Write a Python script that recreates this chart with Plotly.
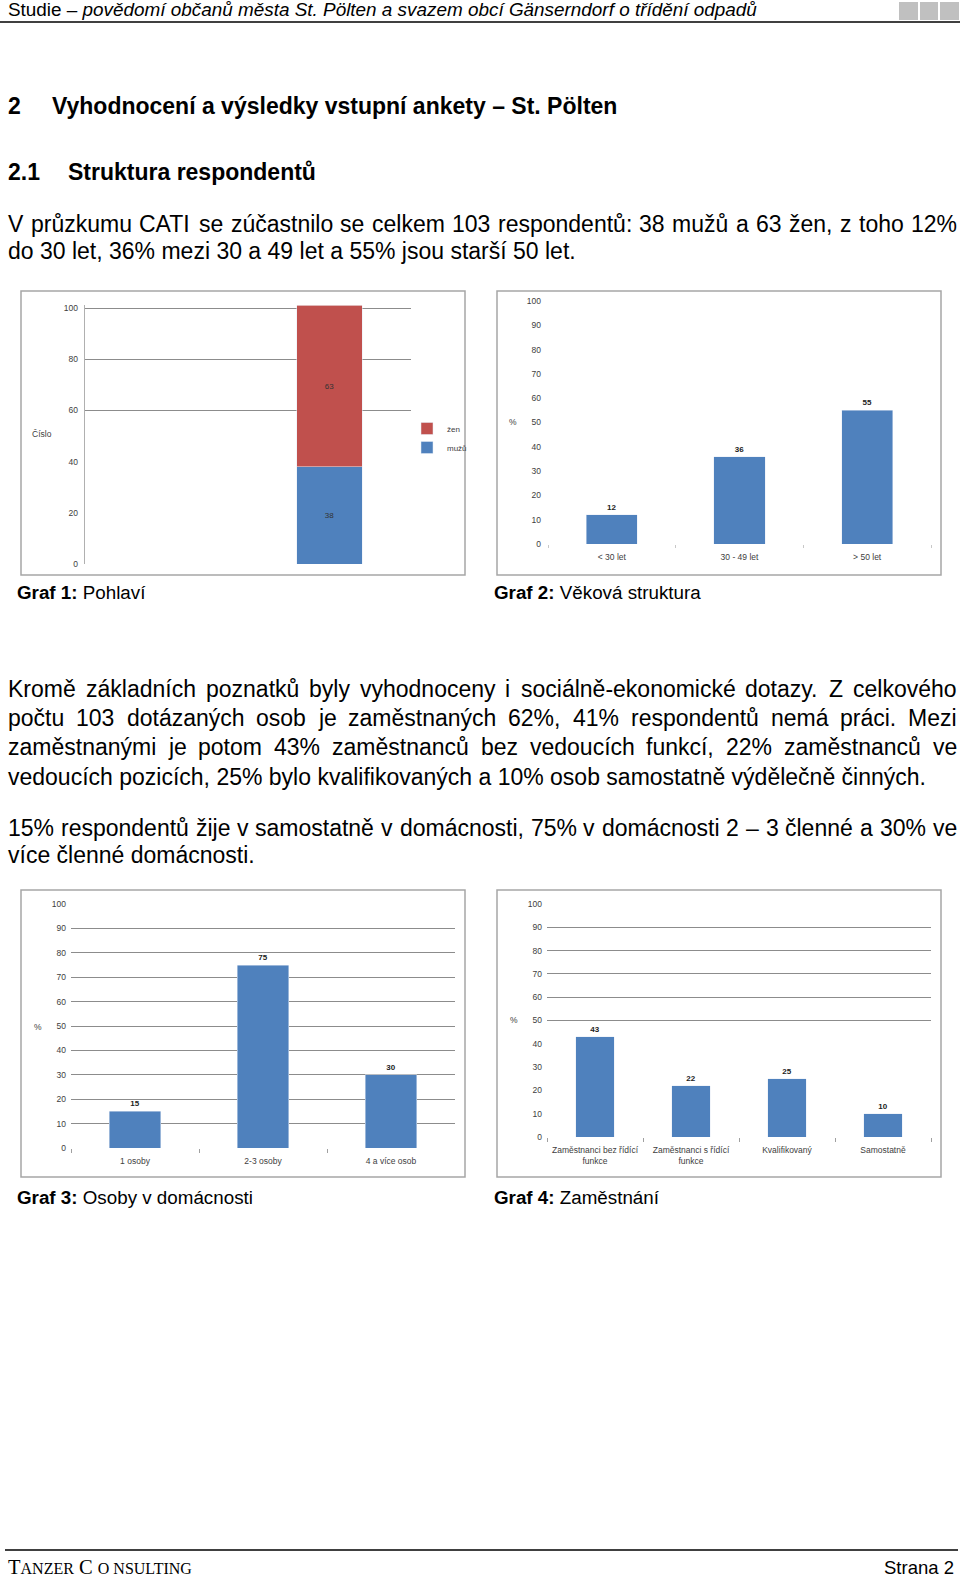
import plotly.graph_objects as go

# ---------------- data ----------------
gender_labels = ["mužů", "žen"]
gender_values = [38, 63]
gender_category = ["Pohlaví"]

age_categories = ["< 30 let", "30 - 49 let", "> 50 let"]
age_values = [12, 36, 55]

household_categories = ["1 osoby", "2-3 osoby", "4 a více osob"]
household_values = [15, 75, 30]

job_categories = ["Zaměstnanci bez řídící<br>funkce", "Zaměstnanci s řídící<br>funkce",
                  "Kvalifikovaný", "Samostatně"]
job_values = [43, 22, 25, 10]

count_ticks = [0, 20, 40, 60, 80, 100]
pct_ticks = [0, 10, 20, 30, 40, 50, 60, 70, 80, 90, 100]

# ---------------- helpers ----------------
W, H = 960, 1581
BLUE = "#4f81bd"
RED = "#c0504d"
AX = "#404040"
GRID = "#8c8c8c"
SANS = "Liberation Sans, Arial, sans-serif"
NARROW = SANS
SERIF = "Liberation Serif, Times New Roman, serif"
CH = "Liberation Sans, Arial, sans-serif"


def px(x):
    return x / W


def py(y):
    return 1 - y / H


fig = go.Figure()

# Graf 1 - stacked
fig.add_trace(go.Bar(x=gender_category, y=[gender_values[0]], name=gender_labels[0],
                     marker_color=BLUE, text=[gender_values[0]], textposition="inside",
                     insidetextanchor="middle", textfont=dict(size=8, color="#333", family=CH),
                     xaxis="x", yaxis="y"))
fig.add_trace(go.Bar(x=gender_category, y=[gender_values[1]], name=gender_labels[1],
                     marker_color=RED, text=[gender_values[1]], textposition="inside",
                     insidetextanchor="middle", textfont=dict(size=8, color="#333", family=CH),
                     xaxis="x", yaxis="y"))

lbl = dict(size=8, color="#222", family=CH)
fig.add_trace(go.Bar(x=age_categories, y=age_values, marker_color=BLUE, showlegend=False,
                     text=[f"<b>{v}</b>" for v in age_values], textposition="outside",
                     textfont=lbl, cliponaxis=False, xaxis="x2", yaxis="y2"))
fig.add_trace(go.Bar(x=household_categories, y=household_values, marker_color=BLUE, showlegend=False,
                     text=[f"<b>{v}</b>" for v in household_values], textposition="outside",
                     textfont=lbl, cliponaxis=False, xaxis="x3", yaxis="y3"))
fig.add_trace(go.Bar(x=job_categories, y=job_values, marker_color=BLUE, showlegend=False,
                     text=[f"<b>{v}</b>" for v in job_values], textposition="outside",
                     textfont=lbl, cliponaxis=False, xaxis="x4", yaxis="y4"))

tickfont = dict(size=8.5, color=AX, family=CH)

layout = dict(
    width=W, height=H, margin=dict(l=0, r=0, t=0, b=0, autoexpand=False),
    paper_bgcolor="white", plot_bgcolor="rgba(0,0,0,0)",
    barmode="stack", bargap=0.6, showlegend=True,
    legend=dict(x=px(407), y=py(414), xanchor="left", yanchor="top", traceorder="reversed",
                font=dict(size=8, color=AX, family=CH), bgcolor="rgba(0,0,0,0)",
                itemwidth=30, tracegroupgap=0),
    # Graf 1
    xaxis=dict(domain=[px(85), px(411)], anchor="y", type="category", range=[-1.5, 0.5],
               showticklabels=False, showgrid=False, showline=False, zeroline=False, ticks="",
               automargin=False),
    yaxis=dict(domain=[py(564), py(564 - 256 * 1.01)], anchor="x", range=[0, 101],
               tickmode="array", tickvals=[60, 80, 100], showticklabels=False,
               showgrid=True, gridcolor=GRID, gridwidth=1, zeroline=False,
               showline=True, linecolor="#b0b0b0", linewidth=1, automargin=False),
    yaxis5=dict(overlaying="y", anchor="x", range=[0, 101], tickmode="array", tickvals=count_ticks,
                showgrid=False, zeroline=False, showline=False, tickfont=tickfont,
                ticklabelstandoff=6, side="left", automargin=False),
    # Graf 2
    xaxis2=dict(domain=[px(548), px(931)], anchor="y2", type="category", showgrid=False,
                showline=False, zeroline=False, ticks="outside", tickson="boundaries",
                ticklen=3, tickcolor="#c8c8c8", tickfont=tickfont, automargin=False,
                ticklabelstandoff=6),
    yaxis2=dict(domain=[py(544), py(301)], anchor="x2", range=[0, 100], tickmode="array",
                tickvals=pct_ticks, showgrid=False, zeroline=False, showline=False,
                tickfont=tickfont, ticklabelstandoff=6, automargin=False),
    # Graf 3
    xaxis3=dict(domain=[px(71), px(455)], anchor="y3", type="category", showgrid=False,
                showline=False, zeroline=False, ticks="outside", tickson="boundaries",
                ticklen=4, tickcolor="#a0a0a0", tickfont=tickfont, automargin=False,
                ticklabelstandoff=6),
    yaxis3=dict(domain=[py(1148), py(904)], anchor="x3", range=[0, 100], tickmode="array",
                tickvals=pct_ticks, showgrid=True, gridcolor=GRID, zeroline=False,
                showline=False, tickfont=tickfont, ticklabelstandoff=4, automargin=False),
    # Graf 4
    xaxis4=dict(domain=[px(547), px(931)], anchor="y4", type="category", showgrid=False,
                showline=False, zeroline=False, ticks="outside", tickson="boundaries",
                ticklen=4, tickcolor="#a0a0a0", tickfont=tickfont, automargin=False,
                ticklabelstandoff=6),
    yaxis4=dict(domain=[py(1137), py(904)], anchor="x4", range=[0, 100], tickmode="array",
                tickvals=[0, 50, 60, 70, 80, 90, 100], showgrid=True, gridcolor=GRID,
                showticklabels=False, zeroline=False, showline=False, automargin=False),
    yaxis6=dict(overlaying="y4", anchor="x4", range=[0, 100], tickmode="array", tickvals=pct_ticks,
                showgrid=False, zeroline=False, showline=False, tickfont=tickfont,
                ticklabelstandoff=4, side="left", automargin=False),
)
fig.update_layout(**layout)

# invisible traces so the overlay label axes render
fig.add_trace(go.Scatter(x=gender_category, y=[None], xaxis="x", yaxis="y5", showlegend=False,
                         hoverinfo="skip"))
fig.add_trace(go.Scatter(x=[job_categories[0]], y=[None], xaxis="x4", yaxis="y6", showlegend=False,
                         hoverinfo="skip"))

annotations = []


def ann(text, x, y, size, family, color="black", xanchor="left", yanchor="middle"):
    annotations.append(dict(text=text, x=px(x), y=py(y), xref="paper", yref="paper",
                            xanchor=xanchor, yanchor=yanchor, showarrow=False,
                            font=dict(size=size, family=family, color=color), align="left"))


# Arial / Liberation Sans advance widths (1/1000 em)
_WID = {" ": 278, "!": 278, "%": 889, ",": 278, "-": 333, ".": 278, ":": 278, "–": 556}
for c in "0123456789":
    _WID[c] = 556
for c, w in zip("ABCDEFGHIJKLMNOPQRSTUVWXYZ",
                [667, 667, 722, 722, 667, 611, 778, 722, 278, 500, 667, 556, 833, 722, 778, 667,
                 778, 722, 667, 611, 722, 667, 944, 667, 667, 611]):
    _WID[c] = w
for c, w in zip("abcdefghijklmnopqrstuvwxyz",
                [556, 556, 500, 556, 556, 278, 556, 556, 222, 222, 500, 222, 833, 556, 556, 556,
                 556, 333, 500, 278, 556, 500, 722, 500, 500, 500]):
    _WID[c] = w
_ACC = {"á": "a", "č": "c", "ď": "d", "é": "e", "ě": "e", "ň": "n", "ó": "o", "ř": "r",
        "š": "s", "ť": "t", "ú": "u", "ů": "u", "ý": "y", "ž": "z", "ö": "o", "ä": "a",
        "Č": "C", "Ř": "R", "Š": "S", "Ž": "Z"}


def text_w(s, size):
    tot = 0
    for ch in s:
        if ch == "í":
            tot += 278
        else:
            tot += _WID.get(_ACC.get(ch, ch), 556)
    return tot * size / 1000


def justify(line_text, x0, x1, y, size, family):
    words = line_text.split(" ")
    widths = [text_w(wd, size) for wd in words]
    gap = (x1 - x0 - sum(widths)) / (len(words) - 1)
    gap = max(gap, text_w(" ", size))
    x = x0
    for wd, w in zip(words, widths):
        ann(wd, x, y, size, family)
        x += w + gap


LEFT = 6
RIGHT = 955

# header
ann("Studie – <i>povědomí občanů města St. Pölten a svazem obcí Gänserndorf o třídění odpadů</i>",
    LEFT, 9, 18.9, NARROW)
ann("<b>2</b>", LEFT, 106, 23, NARROW)
ann("<b>Vyhodnocení a výsledky vstupní ankety – St. Pölten</b>", 50, 106, 23, NARROW)
ann("<b>2.1</b>", LEFT, 172, 23, NARROW)
ann("<b>Struktura respondentů</b>", 66, 172, 23, NARROW)

P = 23
justify("V průzkumu CATI se zúčastnilo se celkem 103 respondentů: 38 mužů a 63 žen, z toho 12%",
        LEFT, RIGHT, 224, P, NARROW)
ann("do 30 let, 36% mezi 30 a 49 let a 55% jsou starší 50 let.", LEFT, 251, P, NARROW)

ann("<b>Graf 1:</b> Pohlaví", 15, 593, 18.8, NARROW)
ann("<b>Graf 2:</b> Věková struktura", 492, 593, 18.8, NARROW)

para2 = [
    "Kromě základních poznatků byly vyhodnoceny i sociálně-ekonomické dotazy. Z celkového",
    "počtu 103 dotázaných osob je zaměstnaných 62%, 41% respondentů nemá práci. Mezi",
    "zaměstnanými je potom 43% zaměstnanců bez vedoucích funkcí, 22% zaměstnanců ve",
    "vedoucích pozicích, 25% bylo kvalifikovaných a 10% osob samostatně výdělečně činných.",
]
for i, line_text in enumerate(para2):
    yy = 689 + i * 29.2
    if i < 3:
        justify(line_text, LEFT, RIGHT, yy, P, SANS)
    else:
        ann(line_text, LEFT, yy, P, SANS)

justify("15% respondentů žije v samostatně v domácnosti, 75% v domácnosti 2 – 3 členné a 30% ve",
        LEFT, RIGHT, 828, P, SANS)
ann("více členné domácnosti.", LEFT, 855, P, SANS)

ann("<b>Graf 3:</b> Osoby v domácnosti", 15, 1197, 18.8, NARROW)
ann("<b>Graf 4:</b> Zaměstnání", 492, 1197, 18.8, NARROW)

# chart axis titles
ann("Číslo", 42, 434, 8.5, CH, color=AX, xanchor="center")
ann("%", 513, 422, 8.5, CH, color=AX, xanchor="center")
ann("%", 38, 1027, 8.5, CH, color=AX, xanchor="center")
ann("%", 514, 1020, 8.5, CH, color=AX, xanchor="center")

# footer
ann('T<span style="font-size:16px">ANZER</span> C <span style="font-size:16px">O NSULTING</span>',
    LEFT, 1580, 20.5, SERIF, yanchor="bottom")
ann("Strana 2", 956, 1580, 18.5, NARROW, xanchor="right", yanchor="bottom")

fig.update_layout(annotations=annotations)

shapes = []


def line(x0, y0, x1, y1, color="black", width=1.5):
    shapes.append(dict(type="line", xref="paper", yref="paper", x0=px(x0), y0=py(y0),
                       x1=px(x1), y1=py(y1), line=dict(color=color, width=width)))


def rect(x0, y0, x1, y1, fill=None, color="#a6a6a6", width=1.5):
    shapes.append(dict(type="rect", xref="paper", yref="paper", x0=px(x0), y0=py(y0),
                       x1=px(x1), y1=py(y1), fillcolor=fill or "rgba(0,0,0,0)",
                       line=dict(color=color, width=width), layer="below"))


line(0, 22, 960, 22)
for a, b in [(899, 918), (920, 938), (940, 959)]:
    rect(a, 2, b, 20, fill="#c0c0c0", color="#c0c0c0", width=0)
line(5, 1550, 958, 1550)

rect(21, 291, 465, 575)
rect(497, 291, 941, 575)
rect(21, 890, 465, 1177)
rect(497, 890, 941, 1177)

fig.update_layout(shapes=shapes)

fig.write_html("out.html", config={"displayModeBar": False},
               post_script="document.body.style.margin='0';document.body.style.overflow='hidden';")
